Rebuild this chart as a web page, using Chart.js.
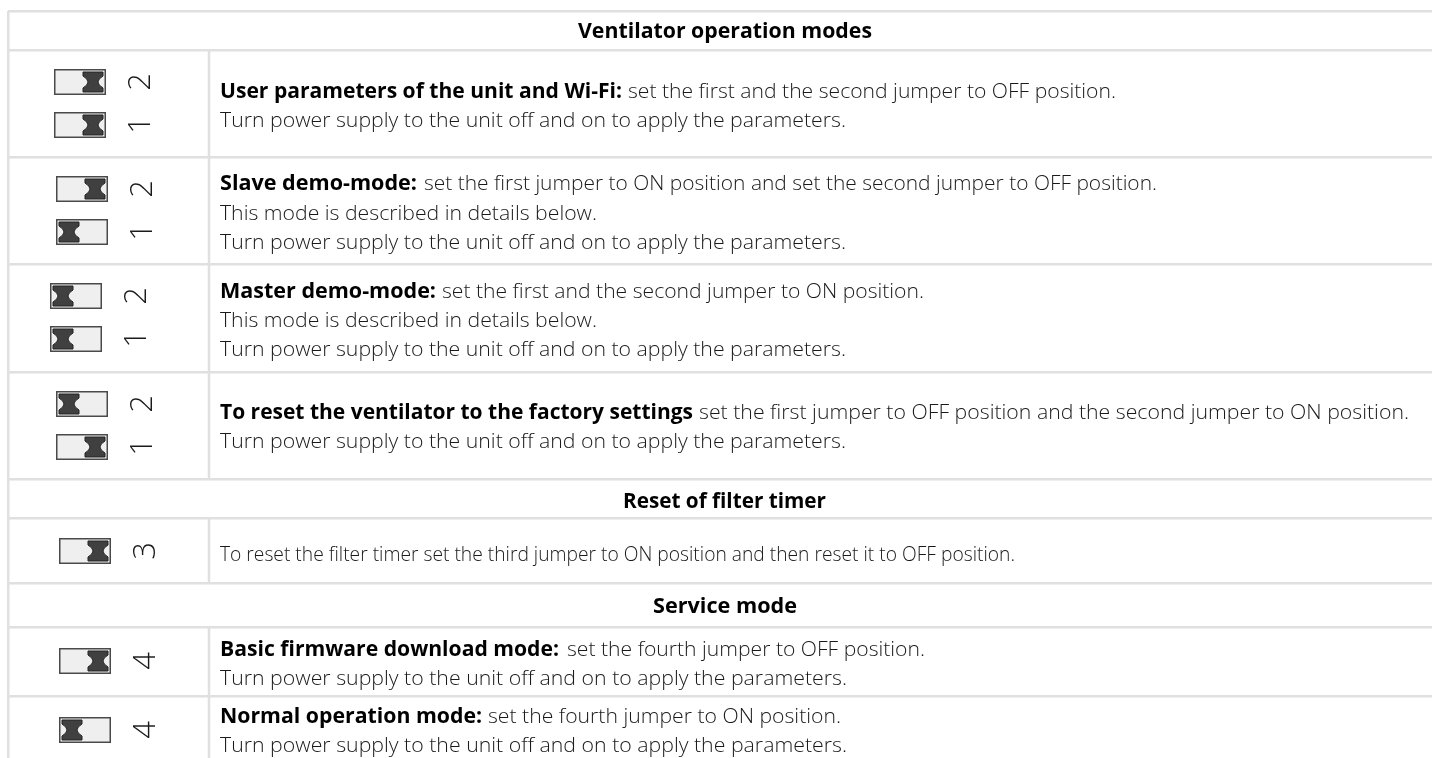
<!DOCTYPE html>
<html>
<head>
<meta charset="utf-8">
<title>Ventilator operation modes</title>
<script src="https://cdn.jsdelivr.net/npm/chart.js@4/dist/chart.umd.min.js"></script>
<style>
    html, body { margin: 0; padding: 0; background: #fff; }
    canvas { display: block; }
</style>
</head>
<body>
<canvas id="modesChart" width="1432" height="758"></canvas>
<script>
// Table content
const sectionTitles = ['Ventilator operation modes', 'Reset of filter timer', 'Service mode'];
const lineLeads = [
    'User parameters of the unit and Wi-Fi:', '',
    'Slave demo-mode:', '', '',
    'Master demo-mode:', '', '',
    'To reset the ventilator to the factory settings', '',
    '',
    'Basic firmware download mode:', '',
    'Normal operation mode:', ''
];
const applyNote = 'Turn power supply to the unit off and on to apply the parameters.';
const detailsNote = 'This mode is described in details below.';
const lineBodies = [
    'set the first and the second jumper to OFF position.', applyNote,
    'set the first jumper to ON position and set the second jumper to OFF position.', detailsNote, applyNote,
    'set the first and the second jumper to ON position.', detailsNote, applyNote,
    'set the first jumper to OFF position and the second jumper to ON position.', applyNote,
    'To reset the filter timer set the third jumper to ON position and then reset it to OFF position.',
    'set the fourth jumper to OFF position.', applyNote,
    'set the fourth jumper to ON position.', applyNote
];
const jumperNumbers = ['2', '1', '2', '1', '2', '1', '2', '1', '3', '4', '4'];
const jumperStates = ['OFF', 'OFF', 'OFF', 'ON', 'ON', 'ON', 'ON', 'OFF', 'OFF', 'OFF', 'ON'];

// Table geometry, in scale units
const rowEdges = [11, 50, 157, 264, 372, 479, 518, 583, 627, 696];
const columnEdges = [8];
const separatorX = 209;
const separatorSpans = [[50, 479], [518, 583], [627, 758]];
const titleStarts = [578, 623, 653];
const titleEnds = [872, 826, 797];
const titleBaselines = [37.5, 507.5, 613];
const textLeft = 220;
const lineBaselines = [97.5, 127, 190, 220, 249, 298, 327, 356, 419, 448, 560.5, 655.5, 685, 723, 752];
const leadEnds = [622, 0, 417, 0, 0, 436, 0, 0, 693, 0, 0, 559, 0, 482, 0];
const bodyStarts = [628, 220, 424, 220, 220, 442, 220, 220, 699, 220, 220, 567, 220, 488, 220];
const lineEnds = [1116, 846, 1157, 597, 846, 924, 597, 846, 1409, 846, 1015, 925, 847, 841, 847];
const jumperX = [80, 80, 82, 82, 76, 76, 82, 82, 85, 85, 85];
const jumperY = [82, 125, 189, 232, 296, 339, 404, 447, 551, 661, 730];
const digitOffset = 61;

const gridColor = '#e0e0e0';
const bodyFont = "300 20.5px 'Open Sans'";
const boldFont = "700 20.5px 'Open Sans'";
const digitFont = "300 31px 'Open Sans'";

// Jumper picture used as the point style
function makeJumper(state) {
    const canvas = document.createElement('canvas');
    canvas.width = 52;
    canvas.height = 26;
    const c = canvas.getContext('2d');
    c.fillStyle = '#efefef';
    c.strokeStyle = '#4a4a4a';
    c.lineWidth = 1.5;
    c.fillRect(0, 0, 52, 26);
    c.strokeRect(0.75, 0.75, 50.5, 24.5);

    const left = state === 'ON' ? 3 : 29;
    const top = 3;
    c.beginPath();
    c.moveTo(left, top);
    c.lineTo(left + 20, top);
    c.lineTo(left + 20, top + 4);
    c.quadraticCurveTo(left + 10, top + 10, left + 20, top + 16);
    c.lineTo(left + 20, top + 20);
    c.lineTo(left, top + 20);
    c.lineTo(left, top + 16);
    c.quadraticCurveTo(left + 10, top + 10, left, top + 4);
    c.closePath();
    c.fillStyle = '#404040';
    c.fill();
    c.strokeStyle = '#222';
    c.lineWidth = 1;
    c.stroke();
    return canvas;
}

const jumperImages = { ON: makeJumper('ON'), OFF: makeJumper('OFF') };

// Write a string so that it runs exactly between two x pixels
function fitText(ctx, text, startPx, endPx, baseline) {
    const stretch = (endPx - startPx) / ctx.measureText(text).width;
    ctx.save();
    ctx.translate(startPx, baseline);
    ctx.scale(stretch, 1);
    ctx.fillText(text, 0, 0);
    ctx.restore();
}

// Section titles, row text and rotated jumper numbers
const tableText = {
    id: 'tableText',
    afterDatasetsDraw(chart) {
        const { ctx, scales: { x, y } } = chart;
        ctx.save();
        ctx.textBaseline = 'alphabetic';
        ctx.textAlign = 'left';
        ctx.fillStyle = '#000';

        ctx.font = boldFont;
        sectionTitles.forEach((title, i) => {
            fitText(ctx, title, x.getPixelForValue(titleStarts[i]), x.getPixelForValue(titleEnds[i]), y.getPixelForValue(titleBaselines[i]));
        });

        lineBodies.forEach((body, i) => {
            const baseline = y.getPixelForValue(lineBaselines[i]);
            if (lineLeads[i]) {
                ctx.font = boldFont;
                ctx.fillStyle = '#000';
                fitText(ctx, lineLeads[i], x.getPixelForValue(textLeft), x.getPixelForValue(leadEnds[i]), baseline);
            }
            ctx.font = bodyFont;
            ctx.fillStyle = '#1a1a1a';
            fitText(ctx, body, x.getPixelForValue(bodyStarts[i]), x.getPixelForValue(lineEnds[i]), baseline);
        });

        ctx.font = digitFont;
        ctx.fillStyle = '#1a1a1a';
        ctx.textAlign = 'center';
        ctx.textBaseline = 'middle';
        jumperNumbers.forEach((number, i) => {
            ctx.save();
            ctx.translate(x.getPixelForValue(jumperX[i] + digitOffset), y.getPixelForValue(jumperY[i]));
            ctx.rotate(-Math.PI / 2);
            ctx.fillText(number, 0, 0);
            ctx.restore();
        });
        ctx.restore();
    }
};

const separatorPoints = [];
separatorSpans.forEach(span => {
    separatorPoints.push({ x: separatorX, y: span[0] }, { x: separatorX, y: span[1] }, { x: separatorX, y: null });
});

const hiddenTicks = { display: false };

new Chart(document.getElementById('modesChart').getContext('2d'), {
    type: 'scatter',
    data: {
        datasets: [
            {
                label: 'Column separator',
                data: separatorPoints,
                showLine: true,
                spanGaps: false,
                borderColor: gridColor,
                borderWidth: 2.5,
                pointRadius: 0,
                clip: false
            },
            {
                label: 'Jumpers',
                data: jumperX.map((value, i) => ({ x: value, y: jumperY[i] })),
                pointStyle: ctx => jumperImages[jumperStates[ctx.dataIndex]],
                pointRadius: 12,
                clip: false
            }
        ]
    },
    options: {
        responsive: false,
        animation: false,
        layout: { autoPadding: false, padding: { left: 8, top: 11, right: 0, bottom: 0 } },
        plugins: { legend: { display: false }, tooltip: { enabled: false } },
        scales: {
            x: {
                type: 'linear',
                min: 8,
                max: 1432,
                afterBuildTicks: scale => { scale.ticks = columnEdges.map(value => ({ value })); },
                ticks: hiddenTicks,
                border: { display: false },
                grid: { color: gridColor, lineWidth: 2.5, drawTicks: false }
            },
            y: {
                type: 'linear',
                reverse: true,
                min: 11,
                max: 758,
                afterBuildTicks: scale => { scale.ticks = rowEdges.map(value => ({ value })); },
                ticks: hiddenTicks,
                border: { display: false },
                grid: { color: gridColor, lineWidth: 2.5, drawTicks: false }
            }
        }
    },
    plugins: [tableText]
});
</script>
</body>
</html>
